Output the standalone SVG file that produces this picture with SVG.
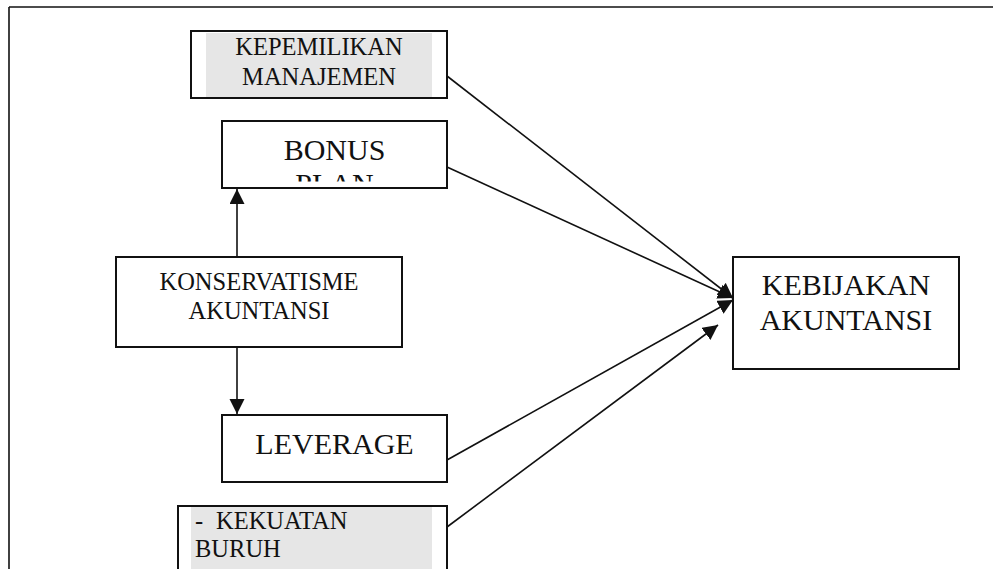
<svg xmlns="http://www.w3.org/2000/svg" width="993" height="569" viewBox="0 0 993 569">
<style>
.box{fill:#fff;stroke:#111;stroke-width:2}
.shade{fill:#e6e6e6}
.t{font-family:"Liberation Serif","Times New Roman",serif;fill:#111}
.big{font-size:30px}
.sm{font-size:24.5px}
.con{stroke:#111;stroke-width:1.6;fill:none}
</style>
<defs>
<marker id="ah" markerUnits="userSpaceOnUse" markerWidth="16" markerHeight="16" refX="15" refY="7.5" orient="auto">
<path d="M0,0 L15,7.5 L0,15 z" fill="#111"/>
</marker>
<clipPath id="clipBonus"><rect x="222" y="121" width="225" height="60.5"/></clipPath>
</defs>
<g id="frame">
<line x1="9" y1="7" x2="993" y2="7" stroke="#111" stroke-width="1.6"/>
<line x1="9" y1="7" x2="9" y2="569" stroke="#111" stroke-width="1.6"/>
</g>
<g id="kepemilikan">
<rect class="box" x="191" y="31" width="256" height="67"/>
<rect class="shade" x="206" y="33" width="226" height="64"/>
<text class="t sm" x="319" y="55" text-anchor="middle">KEPEMILIKAN</text>
<text class="t sm" x="319" y="85" text-anchor="middle">MANAJEMEN</text>
</g>
<g id="bonus">
<rect class="box" x="222" y="121" width="225" height="67"/>
<g clip-path="url(#clipBonus)">
<text class="t big" x="334.5" y="159.5" text-anchor="middle">BONUS</text>
<text class="t big" x="334.5" y="194" text-anchor="middle">PLAN</text>
</g>
</g>
<g id="konservatisme">
<rect class="box" x="116" y="257" width="286" height="90"/>
<text class="t sm" x="259" y="290" text-anchor="middle">KONSERVATISME</text>
<text class="t sm" x="259" y="319" text-anchor="middle">AKUNTANSI</text>
</g>
<g id="leverage">
<rect class="box" x="222" y="415" width="225" height="67"/>
<text class="t big" x="334.5" y="453.5" text-anchor="middle">LEVERAGE</text>
</g>
<g id="kekuatan">
<rect class="box" x="178" y="506" width="269" height="80"/>
<rect class="shade" x="191" y="507" width="241" height="62"/>
<text class="t sm" y="528.5"><tspan x="195">-</tspan><tspan x="216">KEKUATAN</tspan></text>
<text class="t sm" x="195" y="557">BURUH</text>
</g>
<g id="kebijakan">
<rect class="box" x="733" y="257" width="226" height="112"/>
<text class="t big" x="846" y="294.5" text-anchor="middle">KEBIJAKAN</text>
<text class="t big" x="846" y="330" text-anchor="middle">AKUNTANSI</text>
</g>
<g id="connectors">
<line class="con" x1="237" y1="257" x2="237" y2="189" marker-end="url(#ah)"/>
<line class="con" x1="237" y1="347" x2="237" y2="414" marker-end="url(#ah)"/>
<line class="con" x1="447" y1="76" x2="733" y2="298" marker-end="url(#ah)"/>
<line class="con" x1="447" y1="167" x2="733" y2="298" marker-end="url(#ah)"/>
<line class="con" x1="447" y1="460" x2="733" y2="300" marker-end="url(#ah)"/>
<line class="con" x1="447" y1="527" x2="718" y2="325" marker-end="url(#ah)"/>
</g>
</svg>
